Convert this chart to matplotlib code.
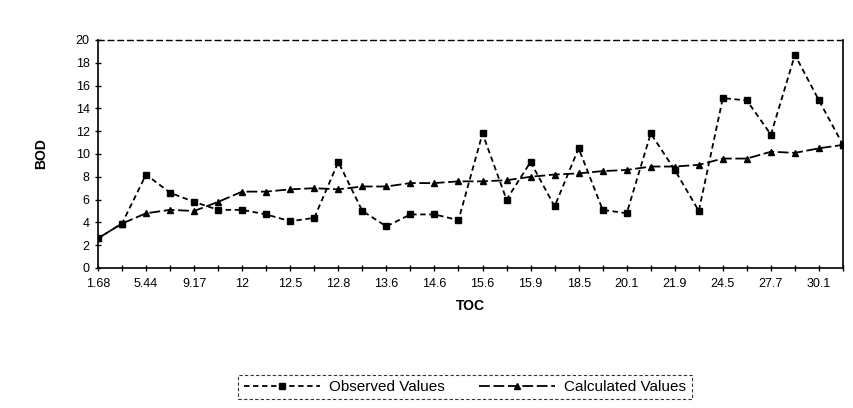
import matplotlib
matplotlib.use("Agg")
import matplotlib.pyplot as plt
import numpy as np

plt.rcParams['font.family'] = ['Liberation Sans', 'DejaVu Sans']

tick_labels = ["1.68", "5.44", "9.17", "12", "12.5", "12.8", "13.6", "14.6",
               "15.6", "15.9", "18.5", "20.1", "21.9", "24.5", "27.7", "30.1"]

observed = [2.6, 3.9, 8.2, 6.6, 5.8, 5.1, 5.1, 4.7, 4.1, 4.4, 9.3, 5.0, 3.65, 4.7, 4.7, 4.2,
            11.8, 6.0, 9.3, 5.4, 10.5, 5.1, 4.8, 11.8, 8.6, 5.0, 14.9, 14.7, 11.7, 18.7, 14.7, 10.8]
calculated = [2.6, 3.9, 4.8, 5.1, 5.0, 5.8, 6.7, 6.7, 6.9, 7.0, 6.9, 7.15, 7.15, 7.45, 7.45, 7.6,
              7.6, 7.7, 8.0, 8.2, 8.3, 8.5, 8.6, 8.9, 8.9, 9.05, 9.6, 9.6, 10.2, 10.1, 10.5, 10.8]

x = np.arange(len(observed))

fig = plt.figure(figsize=(8.54, 4.08), dpi=100)
ax = fig.add_axes([98/854, 1-268/408, (843-98)/854, (268-40)/408])

ax.plot(x, observed, color='black', linestyle=(0, (3, 2)), linewidth=1.3,
        marker='s', markersize=4.5, label='Observed Values')
ax.plot(x, calculated, color='black', linestyle=(0, (6, 2)), linewidth=1.3,
        marker='^', markersize=5, label='Calculated Values')

ax.set_xlim(0, len(observed) - 1)
ax.set_ylim(0, 20)
ax.set_yticks(np.arange(0, 21, 2))
ax.set_xticks(x[::2])
ax.set_xticklabels(tick_labels)
ax.set_xticks(x, minor=True)

ax.tick_params(axis='both', which='major', labelsize=9, direction='inout', length=5, width=1, colors='black')
ax.tick_params(axis='x', which='major', pad=5)
ax.tick_params(axis='x', which='minor', direction='inout', length=4, width=1)

for s in ['left', 'bottom', 'right']:
    ax.spines[s].set_color('black')
    ax.spines[s].set_linewidth(1.2)
ax.spines['top'].set_linestyle((0, (4, 3)))
ax.spines['top'].set_linewidth(1.0)

ax.set_xlabel('TOC', fontsize=10, fontweight='bold', labelpad=6)
ax.set_ylabel('BOD', fontsize=10, fontweight='bold', labelpad=20)

leg = fig.legend(loc='center', bbox_to_anchor=(465/854, 1-387/408), ncol=2,
                 fontsize=11, frameon=True, fancybox=False, edgecolor='black',
                 handlelength=5, columnspacing=2.2, borderpad=0.35, handletextpad=0.6)
leg.get_frame().set_linewidth(0.8)
leg.get_frame().set_linestyle((0, (3, 2)))

fig.savefig('out.png', dpi=100)
